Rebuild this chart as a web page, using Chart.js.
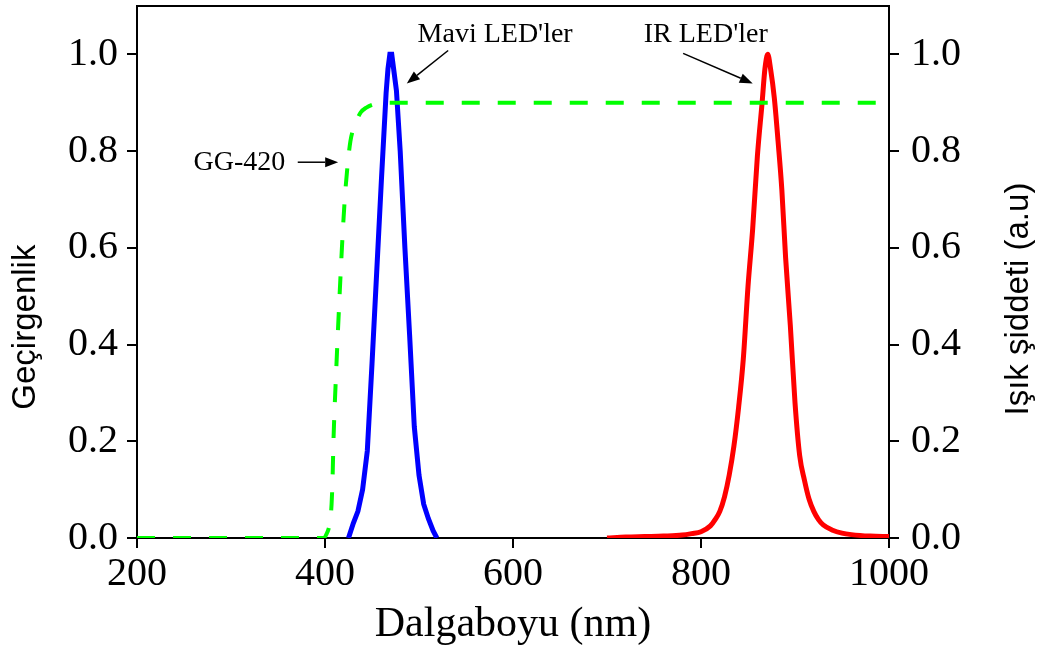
<!DOCTYPE html>
<html>
<head>
<meta charset="utf-8">
<script src="https://cdn.jsdelivr.net/npm/chart.js@4.4.1/dist/chart.umd.min.js"></script>
<style>
  html, body { margin: 0; padding: 0; background: #ffffff; }
  #wrap { width: 1042px; height: 648px; position: relative; }
</style>
</head>
<body>
<div id="wrap"><canvas id="c"></canvas></div>
<script>
// Axis ticks
const xTicks = [200, 400, 600, 800, 1000];
const yTicks = [0, 0.2, 0.4, 0.6, 0.8, 1.0];
const yTickLabels = ['0.0', '0.2', '0.4', '0.6', '0.8', '1.0'];

// GG-420 long-pass filter transmission (left axis)
const filterNm = [200, 300, 398, 402, 405, 407, 408, 409, 412, 415, 418, 421, 424, 427, 430, 434, 438, 444, 452, 465, 600, 800, 1000];
const filterT  = [0, 0, 0, 0.01, 0.03, 0.07, 0.12, 0.2, 0.35, 0.48, 0.6, 0.7, 0.77, 0.82, 0.845, 0.865, 0.88, 0.89, 0.897, 0.9, 0.9, 0.9, 0.9];

// Blue LED emission (right axis)
const blueNm = [425, 430, 435, 440, 445, 450, 455, 460, 465, 467, 469, 471, 473, 476, 480, 485, 490, 495, 500, 505, 510, 515, 519];
const blueI  = [0, 0.03, 0.055, 0.1, 0.18, 0.36, 0.55, 0.74, 0.92, 0.97, 1.0, 1.0, 0.97, 0.925, 0.8, 0.6, 0.42, 0.23, 0.13, 0.07, 0.04, 0.015, 0];

// IR LED emission (right axis)
const irNm = [700, 720, 740, 760, 780, 790, 800, 810, 815, 820, 825, 830, 835, 840, 845, 850, 855, 860, 865, 868, 871, 874, 878, 882, 886, 890, 895, 900, 905, 910, 915, 920, 925, 930, 940, 950, 960, 980, 1000];
const irI  = [0, 0.002, 0.003, 0.004, 0.006, 0.009, 0.013, 0.025, 0.038, 0.055, 0.085, 0.13, 0.19, 0.27, 0.37, 0.52, 0.64, 0.79, 0.9, 0.97, 1.0, 0.97, 0.91, 0.82, 0.72, 0.58, 0.44, 0.28, 0.17, 0.12, 0.08, 0.055, 0.038, 0.027, 0.016, 0.01, 0.007, 0.004, 0.003];

// Callout labels, anchored in data units (nm, value)
const notes = [
  { text: "Mavi LED'ler", at: [581, 1.04],  from: [531, 1.008], to: [487, 0.94] },
  { text: "IR LED'ler",   at: [805, 1.04],  from: [781, 1.002], to: [855, 0.94] },
  { text: "GG-420",       at: [309, 0.777], from: [371, 0.777], to: [414, 0.777] }
];

// Vertical axis titles: text, x position, vertical centre (in axis units)
const sideTitles = [
  { text: 'Geçirgenlik', x: 26, at: 0.436 },
  { text: 'Işık şiddeti (a.u)', x: 1019, at: 0.494 }
];

const pts = (xs, ys) => xs.map((x, i) => ({ x: x, y: ys[i] }));

const serif = 'Liberation Serif, "Times New Roman", serif';
const sans = 'Liberation Sans, Arial, sans-serif';

const decorPlugin = {
  id: 'decor',
  afterDatasetsDraw(chart) {
    const { ctx, chartArea, scales } = chart;
    const xs = scales.x, ys = scales.y;
    ctx.save();
    // top frame line
    ctx.strokeStyle = '#000';
    ctx.lineWidth = 2;
    ctx.beginPath();
    ctx.moveTo(chartArea.left - 1, chartArea.top);
    ctx.lineTo(chartArea.right + 1, chartArea.top);
    ctx.stroke();

    // callouts
    ctx.fillStyle = '#000';
    ctx.font = '28px ' + serif;
    ctx.textAlign = 'center';
    ctx.textBaseline = 'middle';
    notes.forEach(n => {
      ctx.fillText(n.text, xs.getPixelForValue(n.at[0]), ys.getPixelForValue(n.at[1]));
      const x1 = xs.getPixelForValue(n.from[0]), y1 = ys.getPixelForValue(n.from[1]);
      const x2 = xs.getPixelForValue(n.to[0]), y2 = ys.getPixelForValue(n.to[1]);
      const ang = Math.atan2(y2 - y1, x2 - x1);
      const head = 13, half = 5;
      const bx = x2 - head * Math.cos(ang), by = y2 - head * Math.sin(ang);
      ctx.lineWidth = 1.5;
      ctx.beginPath();
      ctx.moveTo(x1, y1);
      ctx.lineTo(bx, by);
      ctx.stroke();
      ctx.beginPath();
      ctx.moveTo(x2, y2);
      ctx.lineTo(bx - half * Math.sin(ang), by + half * Math.cos(ang));
      ctx.lineTo(bx + half * Math.sin(ang), by - half * Math.cos(ang));
      ctx.closePath();
      ctx.fill();
    });

    // vertical axis titles, both reading bottom-to-top
    ctx.font = '33px ' + sans;
    sideTitles.forEach(t => {
      ctx.save();
      ctx.translate(t.x, ys.getPixelForValue(t.at));
      ctx.rotate(-Math.PI / 2);
      ctx.textAlign = 'center';
      ctx.textBaseline = 'middle';
      ctx.fillText(t.text, 0, 0);
      ctx.restore();
    });
    ctx.restore();
  }
};

const yAxis = (pos, width, pad) => ({
  type: 'linear',
  position: pos,
  min: 0,
  max: 1.1,
  afterBuildTicks: s => { s.ticks = yTicks.map(v => ({ value: v })); },
  afterFit: s => { s.width = width; s.paddingTop = 0; s.paddingBottom = 0; },
  ticks: {
    color: '#000',
    font: { family: serif, size: 40 },
    padding: pad,
    callback: (v, i) => yTickLabels[i]
  },
  grid: { display: true, drawOnChartArea: false, drawTicks: true, tickLength: 10, color: '#000', lineWidth: 2 },
  border: { display: true, color: '#000', width: 2 }
});

new Chart(document.getElementById('c'), {
  type: 'line',
  data: {
    datasets: [
      { label: 'GG-420', data: pts(filterNm, filterT), yAxisID: 'y', borderColor: '#00ff00', borderWidth: 4, borderDash: [18, 18], pointRadius: 0, cubicInterpolationMode: 'monotone', fill: false },
      { label: "Mavi LED'ler", data: pts(blueNm, blueI), yAxisID: 'y2', borderColor: '#0000ff', borderWidth: 5, pointRadius: 0, tension: 0, fill: false },
      { label: "IR LED'ler", data: pts(irNm, irI), yAxisID: 'y2', borderColor: '#ff0000', borderWidth: 5, pointRadius: 0, cubicInterpolationMode: 'monotone', fill: false }
    ]
  },
  options: {
    responsive: true,
    maintainAspectRatio: false,
    animation: false,
    events: [],
    layout: { padding: { top: 6, left: 0, right: 0, bottom: 0 } },
    plugins: { legend: { display: false }, tooltip: { enabled: false } },
    scales: {
      x: {
        type: 'linear',
        min: 200,
        max: 1000,
        afterBuildTicks: s => { s.ticks = xTicks.map(v => ({ value: v })); },
        afterFit: s => { s.height = 110; s.paddingLeft = 0; s.paddingRight = 0; },
        ticks: { color: '#000', font: { family: serif, size: 40 }, padding: 2, callback: (v, i) => String(xTicks[i]), maxRotation: 0 },
        grid: { display: true, drawOnChartArea: false, drawTicks: true, tickLength: 10, color: '#000', lineWidth: 2 },
        border: { display: true, color: '#000', width: 2 },
        title: { display: true, text: 'Dalgaboyu (nm)', color: '#000', font: { family: serif, size: 42, lineHeight: 1 }, padding: { top: 0, bottom: 2 } }
      },
      y: yAxis('left', 137, 9),
      y2: yAxis('right', 153, 12)
    }
  },
  plugins: [decorPlugin]
});
</script>
</body>
</html>
